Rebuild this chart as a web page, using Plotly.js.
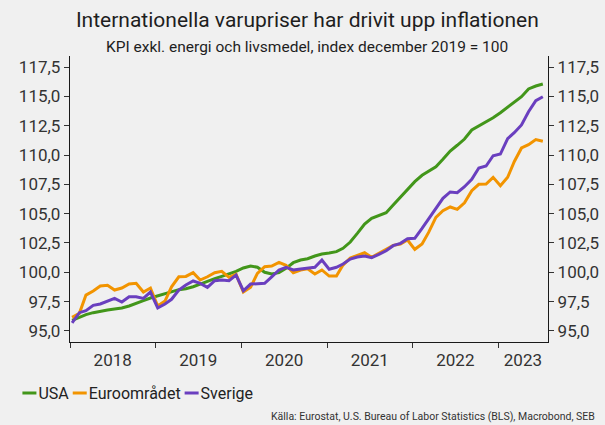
<!DOCTYPE html>
<html>
<head>
<meta charset="utf-8">
<script src="https://cdn.plot.ly/plotly-3.0.1.min.js"></script>
<style>
html,body{margin:0;padding:0;background:#f0f0f0;}
#chart{width:605px;height:425px;}
</style>
</head>
<body>
<div id="chart"></div>
<script>
// Monthly data, Jan 2018 – Jul 2023
const startYear = 2018;
const nMonths = 67;
const months = [];
for (let i = 0; i < nMonths; i++) {
  const y = startYear + Math.floor(i / 12);
  const m = (i % 12) + 1;
  months.push(y + '-' + String(m).padStart(2, '0') + '-10');
}

const usa = [95.9, 96.16, 96.39, 96.56, 96.70, 96.79, 96.87, 96.96, 97.13, 97.38,
  97.58, 97.81, 98.00, 98.21, 98.38, 98.52, 98.60, 98.77, 99.00, 99.26,
  99.46, 99.66, 99.86, 100.08, 100.37, 100.54, 100.43, 100.00, 99.86, 99.97,
  100.34, 100.82, 101.05, 101.16, 101.39, 101.56, 101.65, 101.76, 102.05, 102.58,
  103.32, 104.12, 104.60, 104.83, 105.08, 105.74, 106.39, 107.10, 107.73, 108.27,
  108.62, 109.00, 109.63, 110.34, 110.83, 111.36, 112.13, 112.47, 112.81, 113.18,
  113.61, 114.09, 114.52, 114.97, 115.63, 115.88, 116.05];

const euro = [96.16, 96.50, 98.06, 98.41, 98.83, 98.89, 98.49, 98.66, 99.00, 99.06,
  98.32, 98.66, 97.13, 97.55, 98.77, 99.62, 99.65, 99.97, 99.34, 99.62,
  99.97, 100.08, 99.57, 99.83, 98.32, 98.72, 99.91, 100.48, 100.54, 100.85,
  100.60, 99.97, 100.20, 100.30, 99.86, 100.20, 99.68, 99.68, 100.62, 101.22,
  101.45, 101.67, 101.28, 101.62, 102.01, 102.30, 102.41, 102.75, 101.96, 102.41,
  103.40, 104.69, 105.25, 105.57, 105.37, 105.93, 106.96, 107.50, 107.53, 108.10,
  107.38, 108.10, 109.43, 110.60, 110.88, 111.31, 111.17];

const sverige = [95.70, 96.56, 96.73, 97.18, 97.30, 97.55, 97.78, 97.47, 97.92, 97.92,
  97.78, 98.32, 96.96, 97.30, 97.70, 98.49, 98.92, 99.26, 99.06, 98.72,
  99.28, 99.34, 99.28, 99.77, 98.43, 99.00, 99.06, 99.06, 99.62, 100.20,
  100.43, 100.20, 100.28, 100.38, 100.43, 101.05, 100.26, 100.43, 100.71, 101.13,
  101.30, 101.39, 101.25, 101.53, 101.84, 102.27, 102.47, 102.86, 102.90, 103.75,
  104.55, 105.51, 106.31, 106.85, 106.79, 107.30, 107.93, 108.89, 109.06, 109.94,
  110.08, 111.39, 111.90, 112.56, 113.69, 114.63, 114.97];

const seriesNames = ['USA', 'Euroområdet', 'Sverige'];
const seriesColors = ['#42961a', '#f29400', '#6a3fbf'];

const yearLabels = ['2018', '2019', '2020', '2021', '2022', '2023'];
const yearLabelPos = ['2018-07-02', '2019-07-02', '2020-07-02', '2021-07-02', '2022-07-02', '2023-04-16'];

const xRange = ['2018-01-01', '2023-08-01'];
const yRange = [94.06, 118.44];
const yTicks = [95, 97.5, 100, 102.5, 105, 107.5, 110, 112.5, 115, 117.5];

const font = 'Roboto, "Noto Sans", sans-serif';
const values = [usa, euro, sverige];

const data = values.map((v, i) => ({
  type: 'scatter', mode: 'lines', x: months, y: v, name: seriesNames[i],
  line: {color: seriesColors[i], width: 3}, hoverinfo: 'skip'
}));
// helper trace for the right-hand axis / period labels axis
data.push({type: 'scatter', mode: 'lines', x: months, y: usa, xaxis: 'x2', yaxis: 'y2',
  line: {width: 0, color: 'rgba(0,0,0,0)'}, showlegend: false, hoverinfo: 'skip'});

const axisCommon = {showgrid: false, zeroline: false, showline: true, linecolor: '#1a1a1a', linewidth: 1.2,
  ticks: 'outside', ticklen: 5, tickcolor: '#333', tickwidth: 1,
  tickfont: {family: font, size: 17, color: '#333'}};

const layout = {
  width: 605, height: 425,
  paper_bgcolor: '#f0f0f0', plot_bgcolor: '#f0f0f0',
  separators: ',.',
  margin: {l: 70, r: 57, t: 56, b: 83},
  title: {text: 'Internationella varupriser har drivit upp inflationen',
    font: {family: font, size: 21, color: '#1e1e1e'},
    x: 0.508, xanchor: 'center', y: 1 - 20 / 425, yanchor: 'middle', yref: 'container'},
  annotations: [
    {text: 'KPI exkl. energi och livsmedel, index december 2019 = 100', xref: 'paper', yref: 'paper',
      x: 0.496, y: 1 + (56 - 47) / 286, xanchor: 'center', yanchor: 'middle', showarrow: false,
      font: {family: font, size: 15.5, color: '#1e1e1e'}},
    {text: 'Källa: Eurostat, U.S. Bureau of Labor Statistics (BLS), Macrobond, SEB', xref: 'paper', yref: 'paper',
      x: (597 - 70) / 478, y: -(416 - 342) / 286, xanchor: 'right', yanchor: 'middle', showarrow: false,
      font: {family: font, size: 10.5, color: '#333'}}
  ],
  showlegend: true,
  legend: {orientation: 'h', x: -0.11, xanchor: 'left', y: -(393 - 342) / 286, yanchor: 'middle',
    bgcolor: 'rgba(0,0,0,0)', font: {family: font, size: 16, color: '#222'}, itemwidth: 30, tracegroupgap: 0},
  xaxis: Object.assign({}, axisCommon, {type: 'date', range: xRange, tick0: '2018-01-01', dtick: 'M12',
    showticklabels: false, anchor: 'y', mirror: false}),
  xaxis2: Object.assign({}, axisCommon, {type: 'date', range: xRange, overlaying: 'x', anchor: 'y2', side: 'bottom',
    tickmode: 'array', tickvals: yearLabelPos, ticktext: yearLabels, ticks: '', showline: false, ticklabelstandoff: 6}),
  yaxis: Object.assign({}, axisCommon, {range: yRange, tickmode: 'array', tickvals: yTicks, tickformat: '.1f', anchor: 'x'}),
  yaxis2: Object.assign({}, axisCommon, {range: yRange, tickmode: 'array', tickvals: yTicks, tickformat: '.1f',
    overlaying: 'y', side: 'right', anchor: 'x2'})
};

Plotly.newPlot('chart', data, layout, {staticPlot: true, displayModeBar: false}).then(gd => {
  const items = gd.querySelectorAll('.legend .traces');
  if (!items.length) return;
  const first = items[0].getAttribute('transform') || 'translate(0,0)';
  const m = first.match(/translate\(([-\d.]+)[ ,]+([-\d.]+)\)/);
  let x = m ? parseFloat(m[1]) + 5 : 0;
  const ty = m ? parseFloat(m[2]) : 0;
  items.forEach(it => {
    const line = it.querySelector('path.js-line');
    if (line) line.setAttribute('d', 'M0,0h14');
    const txt = it.querySelector('text.legendtext');
    if (txt) txt.setAttribute('x', 16);
    it.setAttribute('transform', 'translate(' + x + ',' + ty + ')');
    const w = txt ? txt.getComputedTextLength() : 40;
    x += 16 + w + 4;
  });
});
</script>
</body>
</html>
